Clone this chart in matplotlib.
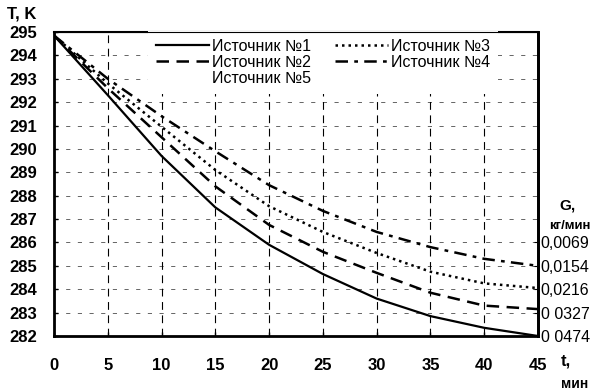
import matplotlib
matplotlib.use("Agg")
from matplotlib import pyplot as plt
from matplotlib.lines import Line2D

plt.rcParams['font.family'] = ['Liberation Sans', 'DejaVu Sans']

t = [0, 5, 10, 15, 20, 25, 30, 35, 40, 45]
src1 = [294.85, 292.3, 289.7, 287.5, 285.9, 284.65, 283.6, 282.85, 282.35, 282.0]
src2 = [294.85, 292.6, 290.5, 288.4, 286.75, 285.6, 284.7, 283.85, 283.3, 283.15]
src3 = [294.85, 292.8, 290.95, 289.1, 287.55, 286.45, 285.55, 284.75, 284.25, 284.05]
src4 = [294.85, 293.0, 291.4, 289.9, 288.45, 287.35, 286.45, 285.8, 285.3, 285.0]

x_ticks = [0, 5, 10, 15, 20, 25, 30, 35, 40, 45]
y_ticks = list(range(282, 296))
g_ticks = [286, 285, 284, 283, 282]
g_labels = ["0,0069", "0,0154", "0,0216", "0 0327", "0 0474"]

fig = plt.figure(figsize=(6.02, 3.92), dpi=100)
ax = fig.add_axes([54/602, 1-336/392, (538-54)/602, (336-32)/392])

# scruffy grid like the scanned original
for xv in x_ticks[1:-1]:
    ax.axvline(xv, color='black', lw=0.8, ls=(0, (7, 5)), zorder=1)
for yv in y_ticks[1:-1]:
    ax.axhline(yv, color='black', lw=0.6, ls=(0, (5, 9)), alpha=0.7, zorder=1)

l1, = ax.plot(t, src1, color='black', lw=1.6, ls='-', zorder=3)
l2, = ax.plot(t, src2, color='black', lw=1.8, ls=(0, (5, 3)), zorder=3)
l3, = ax.plot(t, src3, color='black', lw=1.8, ls=(0, (1, 1.6)), zorder=3)
l4, = ax.plot(t, src4, color='black', lw=1.8, ls=(0, (5, 2.5, 1.5, 2.5)), zorder=3)
l5 = Line2D([], [], ls='none')

ax.set_xlim(0, 45)
ax.set_ylim(282, 295)
ax.set_xticks(x_ticks)
ax.set_yticks(y_ticks)
ax.tick_params(axis='both', direction='in', length=3, width=1, labelsize=12)
ax.tick_params(axis='x', pad=16)
ax.tick_params(axis='y', pad=12)
for lab in ax.get_xticklabels() + ax.get_yticklabels():
    lab.set_fontweight('bold')
for side in ['left', 'bottom', 'right']:
    ax.spines[side].set_linewidth(2)
ax.spines['top'].set_linewidth(1.5)

ax2 = ax.twinx()
ax2.set_ylim(282, 295)
ax2.set_yticks(g_ticks)
ax2.set_yticklabels(g_labels, fontsize=11.5)
ax2.tick_params(axis='y', direction='in', length=3, pad=2)
ax2.spines['right'].set_linewidth(2)

fig.text(7/602, 1-14/392, "T, K", fontsize=12, fontweight='bold', va='center', ha='left')
fig.text(568/602, 1-205/392, "G,", fontsize=11, fontweight='bold', va='center', ha='center')
fig.text(570/602, 1-226/392, "кг/мин", fontsize=9.5, fontweight='bold', va='center', ha='center')
fig.text(566/602, 1-361/392, "t,", fontsize=12, fontweight='bold', va='center', ha='center')
fig.text(575/602, 1-384/392, "мин", fontsize=10, fontweight='bold', va='center', ha='center')

leg = ax.legend([l1, l2, l5, l3, l4],
                ["Источник №1", "Источник №2", "Источник №5", "Источник №3", "Источник №4"],
                ncol=2, loc='upper left', bbox_to_anchor=(148/602, 1-31/392),
                bbox_transform=fig.transFigure, fontsize=11.5, handlelength=3.3,
                handletextpad=0.2, columnspacing=1.5, labelspacing=0.05,
                borderpad=0.5, frameon=True, fancybox=False, framealpha=1,
                borderaxespad=0)
leg.get_frame().set_edgecolor('white')
leg.get_frame().set_linewidth(0)
leg.set_zorder(5)

fig.savefig("out.png", dpi=100)
